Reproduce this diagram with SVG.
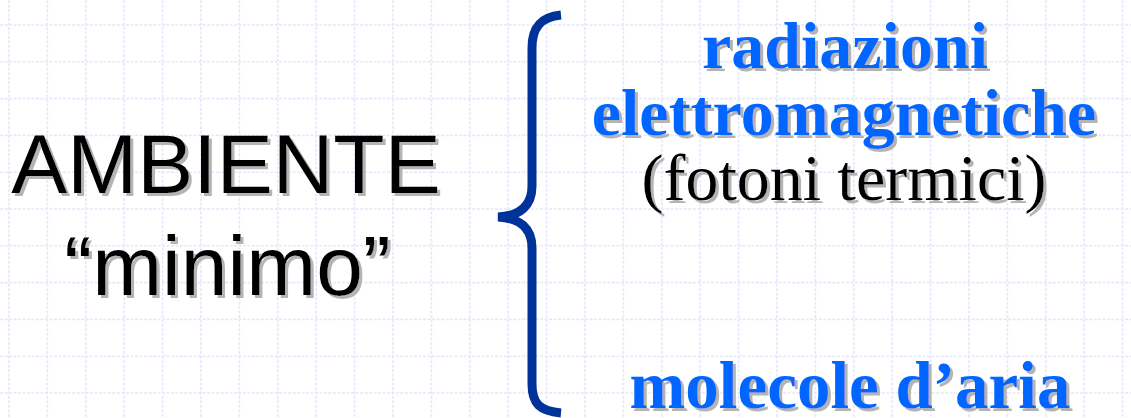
<svg xmlns="http://www.w3.org/2000/svg" width="1131" height="418" viewBox="0 0 1131 418">
<defs>
<filter id="shadow" x="-5%" y="-10%" width="110%" height="130%">
<feFlood flood-color="#b4b4b4" result="c"/>
<feComposite in="c" in2="SourceAlpha" operator="in" result="s"/>
<feOffset in="s" dx="3" dy="3" result="o"/>
<feMerge><feMergeNode in="o"/><feMergeNode in="SourceGraphic"/></feMerge>
</filter>
<style>
.grid line{stroke:#e3e9fb;stroke-width:1.6;stroke-dasharray:3 1.5}
.sans{font-family:"Liberation Sans",Arial,sans-serif;font-size:84px;text-anchor:middle;fill:#000}
.serifb{font-family:"Liberation Serif","Times New Roman",serif;font-weight:bold;font-size:66px;text-anchor:middle;fill:#0066ff}
.serif{font-family:"Liberation Serif","Times New Roman",serif;font-size:66px;text-anchor:middle;fill:#000}
.shd{filter:url(#shadow)}
</style>
</defs>
<rect width="1131" height="418" fill="#fff"/>
<g class="grid" id="grid">
<line x1="9" y1="0" x2="9" y2="418"/><line x1="47.4" y1="0" x2="47.4" y2="418"/><line x1="85.8" y1="0" x2="85.8" y2="418"/><line x1="124.2" y1="0" x2="124.2" y2="418"/><line x1="162.6" y1="0" x2="162.6" y2="418"/><line x1="201" y1="0" x2="201" y2="418"/><line x1="239.4" y1="0" x2="239.4" y2="418"/><line x1="277.8" y1="0" x2="277.8" y2="418"/><line x1="316.2" y1="0" x2="316.2" y2="418"/><line x1="354.6" y1="0" x2="354.6" y2="418"/><line x1="393" y1="0" x2="393" y2="418"/><line x1="431.4" y1="0" x2="431.4" y2="418"/><line x1="469.8" y1="0" x2="469.8" y2="418"/><line x1="508.2" y1="0" x2="508.2" y2="418"/><line x1="546.6" y1="0" x2="546.6" y2="418"/><line x1="585" y1="0" x2="585" y2="418"/><line x1="623.4" y1="0" x2="623.4" y2="418"/><line x1="661.8" y1="0" x2="661.8" y2="418"/><line x1="700.2" y1="0" x2="700.2" y2="418"/><line x1="738.6" y1="0" x2="738.6" y2="418"/><line x1="777" y1="0" x2="777" y2="418"/><line x1="815.4" y1="0" x2="815.4" y2="418"/><line x1="853.8" y1="0" x2="853.8" y2="418"/><line x1="892.2" y1="0" x2="892.2" y2="418"/><line x1="930.6" y1="0" x2="930.6" y2="418"/><line x1="969" y1="0" x2="969" y2="418"/><line x1="1007.4" y1="0" x2="1007.4" y2="418"/><line x1="1045.8" y1="0" x2="1045.8" y2="418"/><line x1="1084.2" y1="0" x2="1084.2" y2="418"/><line x1="1122.6" y1="0" x2="1122.6" y2="418"/>
<line x1="0" y1="25" x2="1131" y2="25"/><line x1="0" y1="61.8" x2="1131" y2="61.8"/><line x1="0" y1="98.6" x2="1131" y2="98.6"/><line x1="0" y1="135.4" x2="1131" y2="135.4"/><line x1="0" y1="172.2" x2="1131" y2="172.2"/><line x1="0" y1="209" x2="1131" y2="209"/><line x1="0" y1="245.8" x2="1131" y2="245.8"/><line x1="0" y1="282.6" x2="1131" y2="282.6"/><line x1="0" y1="319.4" x2="1131" y2="319.4"/><line x1="0" y1="356.2" x2="1131" y2="356.2"/><line x1="0" y1="393" x2="1131" y2="393"/>
</g>
<g id="ambiente" class="shd">
<text class="sans" x="226" y="193">AMBIENTE</text>
<text class="sans" x="227.5" y="295">“minimo”</text>
</g>
<g id="connectors">
<path d="M561,15 C540,17 532,28 532,48 L532,186 C532,206 520,216 498,217 C520,218 532,228 532,248 L532,384 C532,404 540,411 561,413" fill="none" stroke="#003399" stroke-width="9"/>
</g>
<g id="radiazioni" class="shd">
<text class="serifb" x="845" y="68">radiazioni</text>
<text class="serifb" x="844" y="135">elettromagnetiche</text>
<text class="serif" x="844" y="200">(fotoni termici)</text>
</g>
<g id="molecole" class="shd">
<text class="serifb" x="850" y="408" style="font-size:67px">molecole d’aria</text>
</g>
</svg>
